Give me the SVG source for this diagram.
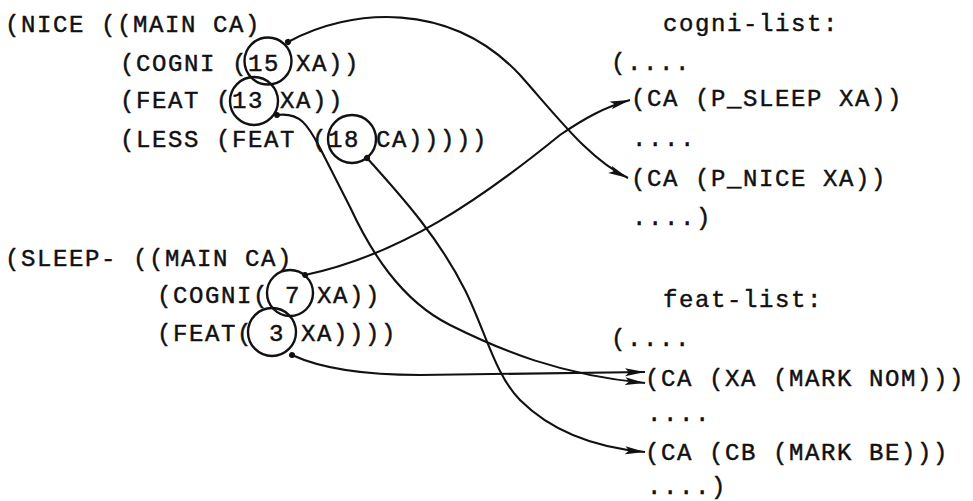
<svg xmlns="http://www.w3.org/2000/svg" width="973" height="501" viewBox="0 0 973 501">
  <style>
    .t { font-family: "Liberation Mono", "DejaVu Sans Mono", monospace; font-size: 24px; letter-spacing: 1.6px; fill: #111; stroke: #111; stroke-width: 0.45px; }
    .ring { fill: none; stroke: #111; stroke-width: 2.4; }
    .link { fill: none; stroke: #111; stroke-width: 2.1; marker-start: url(#tail); marker-end: url(#head); }
  </style>
  <defs>
    <marker id="head" markerUnits="userSpaceOnUse" markerWidth="22" markerHeight="10" refX="20" refY="5" orient="auto">
      <path d="M0,1 L20,5 L0,9 L4,5 z" fill="#111"/>
    </marker>
    <marker id="tail" markerUnits="userSpaceOnUse" markerWidth="8" markerHeight="8" refX="4" refY="4" orient="auto">
      <circle cx="4" cy="4" r="3" fill="#111"/>
    </marker>
  </defs>
  <rect width="973" height="501" fill="#fff"/>

  <!-- NICE entry -->
  <g id="nice">
    <text class="t" x="5" y="32">(NICE ((MAIN CA)</text>
    <text class="t" x="120" y="71">(COGNI (15 XA))</text>
    <text class="t" x="120" y="108">(FEAT (13 XA))</text>
    <text class="t" x="120" y="147">(LESS (FEAT (18 CA)))))</text>
  </g>
  <g id="ring-15"><circle class="ring" cx="268" cy="61" r="23.5"/></g>
  <g id="ring-13"><circle class="ring" cx="254" cy="101" r="24"/></g>
  <g id="ring-18"><circle class="ring" cx="352" cy="139" r="24"/></g>

  <!-- SLEEP entry -->
  <g id="sleep">
    <text class="t" x="5" y="266">(SLEEP- ((MAIN CA)</text>
    <text class="t" x="157" y="303">(COGNI( 7 XA))</text>
    <text class="t" x="157" y="341">(FEAT( 3 XA))))</text>
  </g>
  <g id="ring-7"><circle class="ring" cx="290" cy="293" r="23"/></g>
  <g id="ring-3"><circle class="ring" cx="272" cy="332" r="24"/></g>

  <!-- cognitive list -->
  <g id="cogni-list">
    <text class="t" x="663" y="31">cogni-list:</text>
    <text class="t" x="611" y="70">(....</text>
    <text class="t" x="631" y="106">(CA (P_SLEEP XA))</text>
    <text class="t" x="632" y="146">....</text>
    <text class="t" x="631" y="186">(CA (P_NICE XA))</text>
    <text class="t" x="632" y="225">....)</text>
  </g>

  <!-- feature list -->
  <g id="feat-list">
    <text class="t" x="663" y="307">feat-list:</text>
    <text class="t" x="611" y="346">(....</text>
    <text class="t" x="645" y="386">(CA (XA (MARK NOM)))</text>
    <text class="t" x="647" y="421">....</text>
    <text class="t" x="645" y="460">(CA (CB (MARK BE)))</text>
    <text class="t" x="647" y="494">....)</text>
  </g>

  <!-- pointers from ring numbers into the lists -->
  <g id="connectors">
    <path class="link" d="M288,42 C350,8 450,0 520,75 C560,120 590,160 628,178"/>
    <path class="link" d="M305,275 C400,255 480,200 560,135 C585,118 605,107 630,100"/>
    <path class="link" d="M277,115 C300,112 308,125 320,148 L350,207 C370,250 400,300 450,325 C500,350 560,375 645,383"/>
    <path class="link" d="M367,158 C405,200 440,240 465,290 C485,330 495,375 520,400 C550,430 590,447 645,452"/>
    <path class="link" d="M292,355 C320,368 360,375 420,375 L645,372"/>
  </g>
</svg>
